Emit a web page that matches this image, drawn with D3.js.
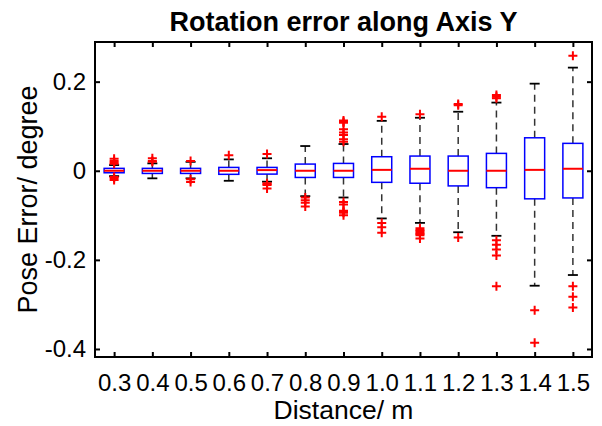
<!DOCTYPE html>
<html><head><meta charset="utf-8">
<script src="https://cdn.jsdelivr.net/npm/d3@7"></script>
<style>body{margin:0;background:#fff}svg{display:block}</style>
</head><body>
<script>
const categories = ["0.3","0.4","0.5","0.6","0.7","0.8","0.9","1.0","1.1","1.2","1.3","1.4","1.5"];
const q1      = [-0.0045,-0.006,-0.006,-0.008,-0.0075,-0.015,-0.015,-0.026,-0.028,-0.034,-0.038,-0.063,-0.061];
const median  = [0,0,0,0,0.0015,0,0,0.002,0.0045,0,0,0.002,0.0045];
const q3      = [0.0054,0.0054,0.0054,0.0075,0.0075,0.015,0.0165,0.0315,0.033,0.033,0.039,0.074,0.0615];
const whiskLo = [-0.012,-0.017,-0.017,-0.0225,-0.0245,-0.057,-0.06,-0.107,-0.117,-0.138,-0.146,-0.258,-0.234];
const whiskHi = [0.0128,0.0166,0.02,0.0255,0.028,0.0555,0.06,0.112,0.119,0.1325,0.153,0.1955,0.2315];
const outliers = [
  [0.027,0.022,0.018,0.016,-0.014,-0.016,-0.021],
  [0.028,0.022,0.02],
  [0.022,-0.019,-0.025],
  [0.035],
  [0.0375,-0.028,-0.03,-0.032,-0.04],
  [-0.06,-0.066,-0.072,-0.08],
  [0.065,0.071,0.08,0.086,0.093,0.108,0.11,0.113,-0.07,-0.076,-0.09,-0.092,-0.094,-0.1],
  [0.121,-0.117,-0.127,-0.139],
  [0.127,-0.129,-0.133,-0.136,-0.139,-0.142,-0.145,-0.152],
  [0.15,0.147,-0.15],
  [0.163,0.166,0.17,-0.156,-0.166,-0.177,-0.19,-0.259],
  [-0.313,-0.386],
  [0.258,-0.259,-0.283,-0.307]
];
const yTicks = [-0.4,-0.2,0,0.2];
const yTickLabels = ["-0.4","-0.2","0","0.2"];

const W = 602, H = 426;
const L = 95, R = 592, T = 42, B = 357;
const FONT = "'Liberation Sans', Arial, Helvetica, sans-serif";
const svg = d3.select("body").append("svg").attr("width", W).attr("height", H)
  .style("font-family", FONT);

const x = d3.scaleLinear().domain([0.5, categories.length + 0.5]).range([L, R]);
const y = d3.scaleLinear().domain([-0.418, 0.289]).range([B, T]);
const idx = d3.range(categories.length);
const bw = 20, capW = 10;

const g = svg.append("g");

// whiskers
idx.forEach(i => {
  const cx = x(i + 1);
  g.append("line").attr("x1", cx).attr("x2", cx).attr("y1", y(q3[i])).attr("y2", y(whiskHi[i]))
    .attr("stroke", "#333").attr("stroke-width", 1.5).attr("stroke-dasharray", "7,5");
  g.append("line").attr("x1", cx).attr("x2", cx).attr("y1", y(q1[i])).attr("y2", y(whiskLo[i]))
    .attr("stroke", "#333").attr("stroke-width", 1.5).attr("stroke-dasharray", "7,5");
  [whiskHi[i], whiskLo[i]].forEach(v => {
    g.append("line").attr("x1", cx - capW/2).attr("x2", cx + capW/2).attr("y1", y(v)).attr("y2", y(v))
      .attr("stroke", "#000").attr("stroke-width", 1.8);
  });
});
// boxes
g.selectAll("rect.box").data(idx).join("rect").attr("class", "box")
  .attr("x", i => x(i + 1) - bw/2).attr("width", bw)
  .attr("y", i => y(q3[i])).attr("height", i => y(q1[i]) - y(q3[i]))
  .attr("fill", "none").attr("stroke", "#0000ff").attr("stroke-width", 1.5);
// medians
g.selectAll("line.med").data(idx).join("line").attr("class", "med")
  .attr("x1", i => x(i + 1) - bw/2).attr("x2", i => x(i + 1) + bw/2)
  .attr("y1", i => y(median[i])).attr("y2", i => y(median[i]))
  .attr("stroke", "#ff0000").attr("stroke-width", 2);
// outliers
const pts = [];
outliers.forEach((arr, i) => arr.forEach(v => pts.push({i, v})));
const ps = 4.5;
g.selectAll("path.out").data(pts).join("path").attr("class", "out")
  .attr("d", d => { const cx = x(d.i + 1), cy = y(d.v);
    return `M${cx - ps},${cy}H${cx + ps}M${cx},${cy - ps}V${cy + ps}`; })
  .attr("stroke", "#ff0000").attr("stroke-width", 2).attr("fill", "none");

// frame
svg.append("rect").attr("x", L).attr("y", T).attr("width", R - L).attr("height", B - T)
  .attr("fill", "none").attr("stroke", "#000").attr("stroke-width", 2);

// axes
const xAxis = d3.axisBottom(x).tickValues(idx.map(i => i + 1)).tickFormat(d => categories[d - 1])
  .tickSizeInner(-5).tickSizeOuter(0).tickPadding(17);
const gx = svg.append("g").attr("transform", `translate(0,${B})`).call(xAxis);
gx.select(".domain").remove();
gx.selectAll("line").attr("stroke-width", 2);
gx.selectAll("text").attr("font-size", 24).attr("fill", "#000").style("font-family", FONT);

const xTop = d3.axisTop(x).tickValues(idx.map(i => i + 1)).tickFormat("").tickSizeInner(-5).tickSizeOuter(0);
const gxt = svg.append("g").attr("transform", `translate(0,${T})`).call(xTop);
gxt.select(".domain").remove();
gxt.selectAll("line").attr("stroke-width", 2);

const yAxis = d3.axisLeft(y).tickValues(yTicks).tickFormat((d, k) => yTickLabels[k])
  .tickSizeInner(-5).tickSizeOuter(0).tickPadding(9);
const gy = svg.append("g").attr("transform", `translate(${L},0)`).call(yAxis);
gy.select(".domain").remove();
gy.selectAll("line").attr("stroke-width", 2);
gy.selectAll("text").attr("font-size", 24).attr("fill", "#000").style("font-family", FONT);

const yRight = d3.axisRight(y).tickValues(yTicks).tickFormat("").tickSizeInner(-5).tickSizeOuter(0);
const gyr = svg.append("g").attr("transform", `translate(${R},0)`).call(yRight);
gyr.select(".domain").remove();
gyr.selectAll("line").attr("stroke-width", 2);

// titles
svg.append("text").attr("x", (L + R) / 2).attr("y", 31).attr("text-anchor", "middle")
  .attr("font-size", 27).attr("font-weight", "bold").text("Rotation error along Axis Y");
svg.append("text").attr("x", (L + R) / 2).attr("y", 419).attr("text-anchor", "middle")
  .attr("font-size", 26.5).text("Distance/ m");
svg.append("text").attr("transform", `translate(37,${(T + B) / 2}) rotate(-90)`)
  .attr("text-anchor", "middle").attr("font-size", 27).text("Pose Error/ degree");
</script>
</body></html>
